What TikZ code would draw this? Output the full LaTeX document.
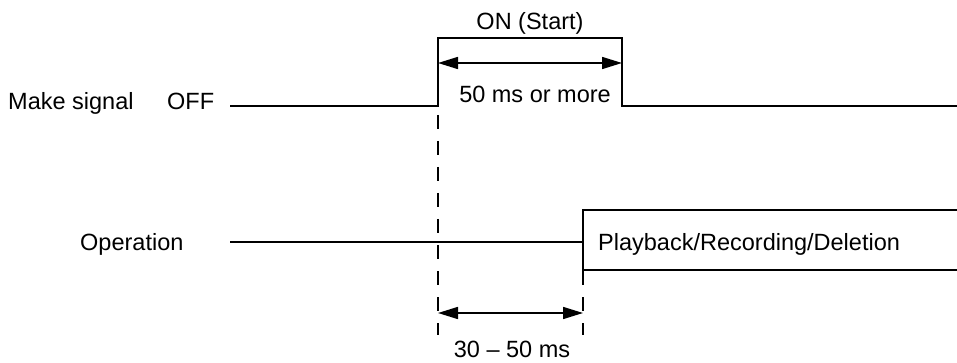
\documentclass[tikz,border=0pt]{standalone}
\usepackage{fontspec}
\setmainfont{Liberation Sans}
\usetikzlibrary{arrows.meta}

\begin{document}
\begin{tikzpicture}[x=1pt,y=-1pt,
        txt/.style={anchor=base,inner sep=0pt,font=\fontsize{23.5}{28}\selectfont},
        wave/.style={line width=2pt},
        guide/.style={line width=2.2pt,dash pattern=on 14pt off 12pt},
        span/.style={line width=1.6pt,{Triangle[length=20pt,width=12pt]}-{Triangle[length=20pt,width=12pt]}}]

    \useasboundingbox (0,0) rectangle (957,363);

    \node[txt,anchor=base west] (make) at (8,110) {Make signal};
    \node[txt,anchor=base west] (off) at (167,110) {OFF};
    \node[txt,anchor=base west] (oper) at (80,250) {Operation};
    \node[txt] (on) at (530,30) {ON (Start)};
    \node[txt] (min) at (535,103) {50 ms or more};
    \node[txt] (delay) at (512,357) {30 -- 50 ms};
    \node[txt,anchor=base west] (play) at (598,250) {Playback/Recording/Deletion};

    \coordinate (m0) at (230,106);
    \coordinate (m1) at (438,106);
    \coordinate (m2) at (438,38);
    \coordinate (m3) at (622,38);
    \coordinate (m4) at (622,106);
    \coordinate (m5) at (957,106);
    \draw[wave] (m0) -- (m1) -- (m2) -- (m3) -- (m4) -- (m5);

    \coordinate (o0) at (230,242);
    \coordinate (o1) at (583,242);
    \coordinate (b0) at (957,210);
    \coordinate (b1) at (583,210);
    \coordinate (b2) at (583,270);
    \coordinate (b3) at (957,270);
    \draw[wave] (o0) -- (o1);
    \draw[wave] (b0) -- (b1) -- (b2) -- (b3);

    \coordinate (d1) at (438,335);
    \coordinate (d2) at (583,335);
    \draw[guide,dash phase=17pt] (m1) -- (d1);
    \draw[guide,dash phase=25pt] (b2) -- (d2);

    \coordinate (a1) at (438,63);
    \coordinate (a2) at (622,63);
    \draw[span] (a1) -- (a2);
    \coordinate (c1) at (438,313);
    \coordinate (c2) at (583,313);
    \draw[span] (c1) -- (c2);
    \end{tikzpicture}
\end{document}
